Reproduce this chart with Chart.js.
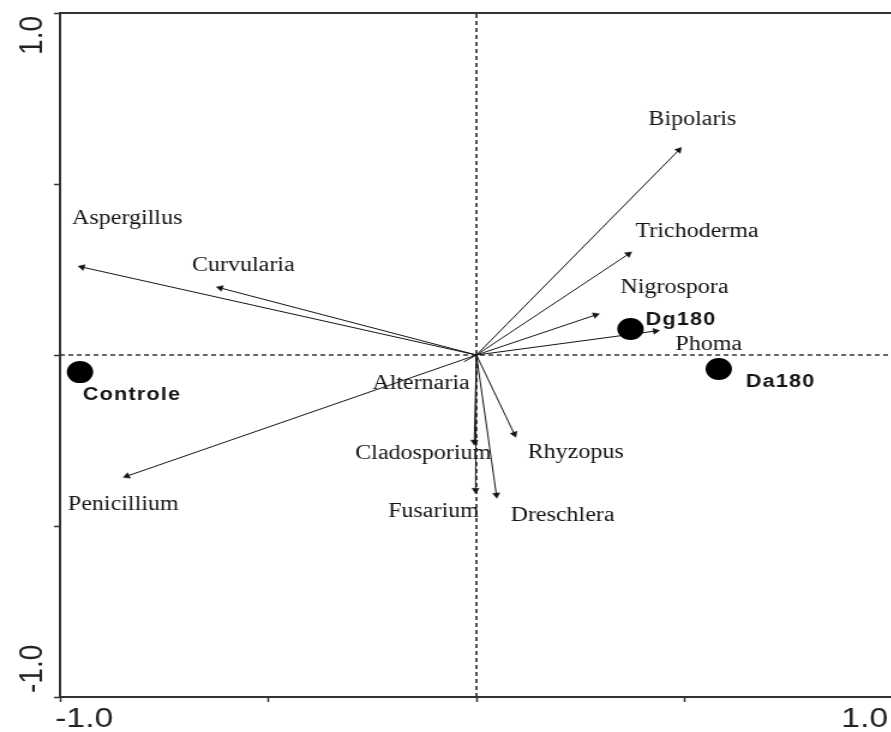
<!DOCTYPE html>
<html>
<head>
<meta charset="utf-8">
<title>Biplot</title>
<script src="https://cdn.jsdelivr.net/npm/chart.js@4/dist/chart.umd.min.js"></script>
<style>
  html, body { margin: 0; padding: 0; background: #fff; overflow: hidden; }
  #wrap { position: relative; width: 891px; height: 732px; overflow: hidden; }
  #biplot { position: absolute; left: 0; top: 0; transform-origin: 0 0; transform: scaleX(1.2); }
</style>
</head>
<body>
<div id="wrap">
  <!-- drawn at 744px wide, shown 1.2x wider -->
  <canvas id="biplot" width="744" height="732" style="display:block;width:744px;height:732px"></canvas>
</div>
<script>
// Species vectors (axis 1, axis 2)
const species = ['Bipolaris', 'Trichoderma', 'Nigrospora', 'Phoma', 'Aspergillus', 'Curvularia',
                 'Alternaria', 'Cladosporium', 'Rhyzopus', 'Penicillium', 'Fusarium', 'Dreschlera'];
const speciesAxis1 = [0.486, 0.365, 0.286, 0.430, -0.947, -0.615, -0.030, -0.005, 0.091, -0.839, -0.002, 0.048];
const speciesAxis2 = [0.599, 0.295, 0.117, 0.070, 0.257, 0.196, -0.020, -0.254, -0.231, -0.354, -0.395, -0.409];

// Samples (axis 1, axis 2)
const samples = ['Controle', 'Dg180', 'Da180'];
const sampleAxis1 = [-0.952, 0.370, 0.582];
const sampleAxis2 = [-0.050, 0.076, -0.041];

// Axis tick labels
const xTickValues = [-1, 1];
const xTickText = ['-1.0', '1.0'];
const yTickValues = [-1, 1];
const yTickText = ['-1.0', '1.0'];

// Where each name is written (left end of the text, axis units)
const labelAnchors = {
  Bipolaris: [0.413, 0.687], Trichoderma: [0.382, 0.360], Nigrospora: [0.346, 0.196],
  Phoma: [0.478, 0.029], Aspergillus: [-0.971, 0.398], Curvularia: [-0.683, 0.260],
  Alternaria: [-0.250, -0.085], Cladosporium: [-0.291, -0.289], Rhyzopus: [0.123, -0.287],
  Penicillium: [-0.981, -0.439], Fusarium: [-0.212, -0.459], Dreschlera: [0.082, -0.471],
  Controle: [-0.945, -0.117], Dg180: [0.406, 0.102], Da180: [0.647, -0.079]
};

const INK = '#141414';
const FRAME = '#333';

// Rotate each arrowhead along its vector
function headAngle(ctx) {
  const p = ctx.raw;
  if (!p) return 0;
  const xs = ctx.chart.scales.x, ys = ctx.chart.scales.y;
  const dx = xs.getPixelForValue(p.x) - xs.getPixelForValue(0);
  const dy = ys.getPixelForValue(p.y) - ys.getPixelForValue(0);
  return Math.atan2(dx, -dy) * 180 / Math.PI;
}

const datasets = [];

// dashed lines through the origin
datasets.push({
  label: 'axis1', order: 3, showLine: true, pointRadius: 0,
  borderColor: FRAME, borderWidth: 1.7, borderDash: [4, 3],
  data: [{ x: -1, y: 0 }, { x: 1, y: 0 }]
});
datasets.push({
  label: 'axis2', order: 3, showLine: true, pointRadius: 0,
  borderColor: FRAME, borderWidth: 1.7, borderDash: [4, 3],
  data: [{ x: 0, y: -1 }, { x: 0, y: 1 }]
});

// species arrows from the origin
species.forEach((name, i) => {
  datasets.push({
    label: name, order: 2, showLine: true,
    borderColor: INK, borderWidth: 1,
    pointStyle: 'triangle',
    pointRadius: c => (c.dataIndex === 1 && name !== 'Alternaria') ? 3.4 : 0,
    pointRotation: headAngle,
    pointBackgroundColor: INK, pointBorderColor: INK, pointBorderWidth: 0.5,
    data: [{ x: 0, y: 0 }, { x: speciesAxis1[i], y: speciesAxis2[i] }]
  });
});

// sample scores
datasets.push({
  label: 'samples', order: 0, showLine: false,
  pointRadius: 11, pointBackgroundColor: '#000', pointBorderColor: '#000', pointBorderWidth: 0,
  data: samples.map((s, i) => ({ x: sampleAxis1[i], y: sampleAxis2[i] }))
});

const labelsPlugin = {
  id: 'biplotText',
  afterDatasetsDraw(chart) {
    const { ctx, chartArea: a } = chart;
    const xs = chart.scales.x, ys = chart.scales.y;

    // top and right edges of the frame
    ctx.save();
    ctx.strokeStyle = FRAME;
    ctx.lineWidth = 2;
    ctx.beginPath();
    ctx.moveTo(a.left, a.top);
    ctx.lineTo(a.right, a.top);
    ctx.lineTo(a.right, a.bottom);
    ctx.stroke();
    ctx.restore();

    // species names
    ctx.save();
    ctx.fillStyle = INK;
    ctx.textAlign = 'left';
    ctx.textBaseline = 'middle';
    ctx.font = '20px "Liberation Serif", "Times New Roman", serif';
    species.forEach(name => {
      const [lx, ly] = labelAnchors[name];
      ctx.fillText(name, xs.getPixelForValue(lx), ys.getPixelForValue(ly));
    });

    // sample names
    ctx.font = 'bold 18px "Liberation Sans", Arial, sans-serif';
    ctx.letterSpacing = '1px';
    samples.forEach(name => {
      const [lx, ly] = labelAnchors[name];
      ctx.fillText(name, xs.getPixelForValue(lx), ys.getPixelForValue(ly));
    });
    ctx.restore();

    // vertical axis labels, turned to read upwards, kept inside the axis range
    ctx.save();
    ctx.fillStyle = '#222';
    ctx.font = '28px "Liberation Sans", Arial, sans-serif';
    ctx.textBaseline = 'alphabetic';
    const lo = Math.min(...yTickValues), hi = Math.max(...yTickValues);
    yTickValues.forEach((v, i) => {
      const py = ys.getPixelForValue(v);
      ctx.save();
      ctx.translate(a.left - 15.5, py);
      ctx.rotate(-Math.PI / 2);
      if (v === lo) { ctx.textAlign = 'left'; ctx.fillText(yTickText[i], 4, 0); }
      else if (v === hi) { ctx.textAlign = 'right'; ctx.fillText(yTickText[i], -3, 0); }
      else { ctx.textAlign = 'center'; ctx.fillText(yTickText[i], 0, 0); }
      ctx.restore();
    });
    ctx.restore();
  }
};

new Chart(document.getElementById('biplot'), {
  type: 'scatter',
  data: { datasets },
  options: {
    responsive: false,
    devicePixelRatio: 1,
    animation: false,
    events: [],
    layout: { autoPadding: false, padding: { left: 45, top: 13, right: 0, bottom: 0 } },
    plugins: { legend: { display: false }, tooltip: { enabled: false } },
    scales: {
      x: {
        type: 'linear', position: 'bottom', min: -1, max: 1,
        border: { display: true, color: FRAME, width: 2 },
        grid: { display: true, drawOnChartArea: false, drawTicks: true, tickLength: 5, tickColor: FRAME, tickWidth: 1.5 },
        ticks: {
          stepSize: 0.5, autoSkip: false, minRotation: 0, maxRotation: 0,
          align: 'inner', labelOffset: -4, padding: 3, color: '#222',
          font: { family: '"Liberation Sans", Arial, sans-serif', size: 28, lineHeight: 1 },
          callback: v => { const k = xTickValues.indexOf(v); return k >= 0 ? xTickText[k] : ''; }
        },
        // labels are aligned inward, so the plot needs no side overhang
        afterFit: s => { s.paddingLeft = 0; s.paddingRight = 0; s.height = 35; }
      },
      y: {
        type: 'linear', position: 'left', min: -1, max: 1,
        border: { display: true, color: FRAME, width: 2 },
        grid: { display: true, drawOnChartArea: false, drawTicks: true, tickLength: 5, tickColor: FRAME, tickWidth: 1.5 },
        ticks: { stepSize: 0.5, display: false },
        afterFit: s => { s.paddingTop = 0; s.paddingBottom = 0; s.width = 5; }
      }
    }
  },
  plugins: [labelsPlugin]
});
</script>
</body>
</html>
